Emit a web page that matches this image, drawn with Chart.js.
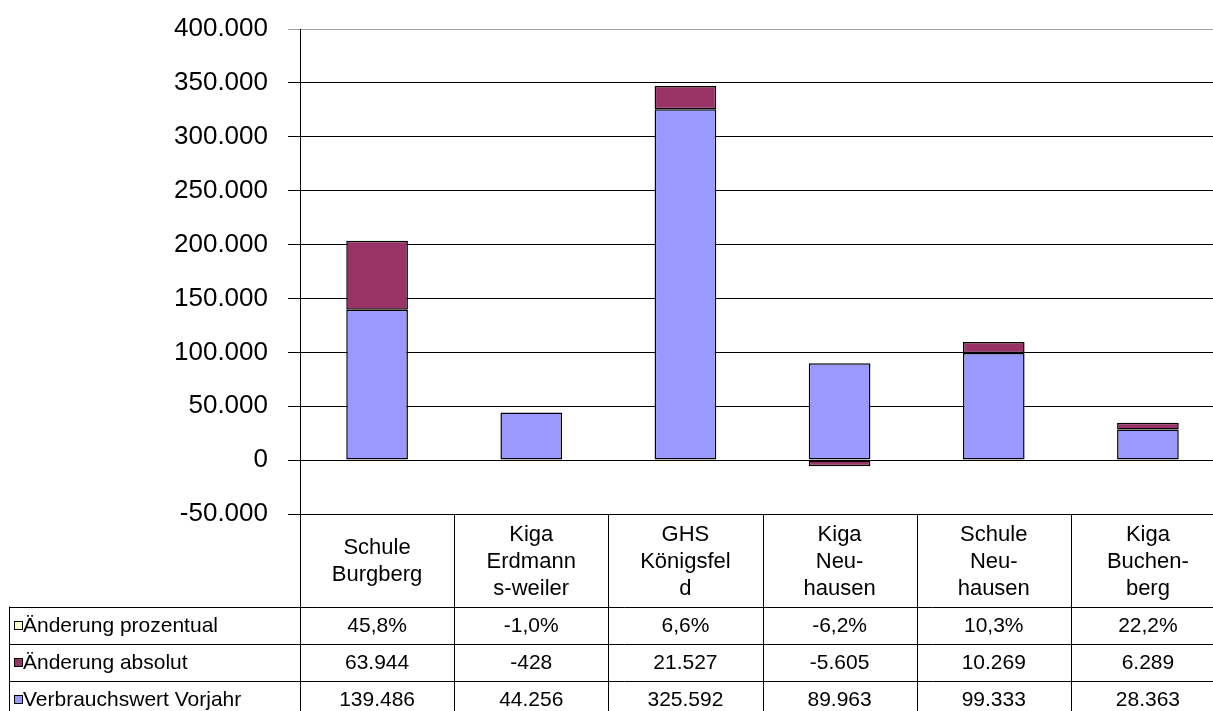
<!DOCTYPE html>
<html>
<head>
<meta charset="utf-8">
<script src="https://cdn.jsdelivr.net/npm/chart.js@4.4.1/dist/chart.umd.min.js"></script>
<style>
  html, body { margin: 0; padding: 0; background: #fff; overflow: hidden; }
  #wrap { width: 1213px; height: 711px; overflow: hidden; }
</style>
</head>
<body>
<div id="wrap">
  <canvas id="chart" width="1240" height="711"></canvas>
</div>
<script>
var categories = [
  ["Schule", "Burgberg"],
  ["Kiga", "Erdmann", "s-weiler"],
  ["GHS", "Königsfel", "d"],
  ["Kiga", "Neu-", "hausen"],
  ["Schule", "Neu-", "hausen"],
  ["Kiga", "Buchen-", "berg"]
];
var vorjahr = [139486, 44256, 325592, 89963, 99333, 28363];
var absolut = [63944, -428, 21527, -5605, 10269, 6289];
var prozentual = [0.458, -0.010, 0.066, -0.062, 0.103, 0.222];
var yTicks = { min: -50000, max: 400000, step: 50000 };

var FONT = "'Liberation Sans', Arial, sans-serif";

function fmtNum(v) {
  var s = Math.abs(Math.round(v)).toString().replace(/\B(?=(\d{3})+(?!\d))/g, ".");
  return (v < 0 ? "-" : "") + s;
}
function fmtPct(v) {
  return (v * 100).toFixed(1).replace(".", ",") + "%";
}

// rows of the data table, top to bottom (same order as Excel)
var tableRows = [
  { label: "Änderung prozentual", color: "#FFFFCC", values: prozentual, fmt: fmtPct },
  { label: "Änderung absolut", color: "#993366", values: absolut, fmt: fmtNum },
  { label: "Verbrauchswert Vorjahr", color: "#9999FF", values: vorjahr, fmt: fmtNum }
];

var dataTable = {
  id: "dataTable",
  afterDraw: function (chart) {
    var ctx = chart.ctx;
    var xs = chart.scales.x;
    var area = chart.chartArea;
    var colW = xs.width / categories.length;
    var headerH = 92;
    var rowH = 37;
    var top = Math.round(area.bottom) + 0.5;
    var rowTop = top + headerH;
    var H = chart.height;
    var W = chart.width;

    ctx.save();
    ctx.strokeStyle = "#000";
    ctx.lineWidth = 1;
    ctx.beginPath();
    // column borders
    for (var i = 0; i < categories.length; i++) {
      var bx = Math.round(xs.getPixelForValue(i) - colW / 2) + 0.5;
      ctx.moveTo(bx, top);
      ctx.lineTo(bx, H);
    }
    // row borders
    for (var r = 0; r < tableRows.length; r++) {
      var ry = Math.round(rowTop + r * rowH) + 0.5;
      ctx.moveTo(9.5, ry);
      ctx.lineTo(W, ry);
    }
    ctx.moveTo(9.5, rowTop);
    ctx.lineTo(9.5, H);
    ctx.stroke();

    ctx.fillStyle = "#000";
    ctx.textAlign = "center";
    ctx.textBaseline = "middle";

    // category header cells
    ctx.font = "22px " + FONT;
    var lh = 27;
    categories.forEach(function (lines, i) {
      var cx = xs.getPixelForValue(i);
      var cy = top + headerH / 2 - (lines.length - 1) * lh / 2;
      lines.forEach(function (t, k) {
        ctx.fillText(t, cx, cy + k * lh + 1);
      });
    });

    // value rows
    ctx.font = "21px " + FONT;
    tableRows.forEach(function (row, r) {
      var cy = rowTop + r * rowH + rowH / 2 + 1;
      row.values.forEach(function (v, i) {
        ctx.fillText(row.fmt(v), xs.getPixelForValue(i), cy);
      });
      // legend key + label
      ctx.fillStyle = row.color;
      ctx.fillRect(14.5, Math.round(cy) - 4.5, 8, 8);
      ctx.strokeRect(14.5, Math.round(cy) - 4.5, 8, 8);
      ctx.fillStyle = "#000";
      ctx.textAlign = "left";
      ctx.fillText(row.label, 23, cy);
      ctx.textAlign = "center";
    });
    ctx.restore();
  }
};

var ctx = document.getElementById("chart");
new Chart(ctx, {
  type: "bar",
  data: {
    labels: categories.map(function (c) { return c.join(" "); }),
    datasets: [
      { label: "Verbrauchswert Vorjahr", data: vorjahr, backgroundColor: "#9999FF" },
      { label: "Änderung absolut", data: absolut, backgroundColor: "#993366" },
      { label: "Änderung prozentual", data: prozentual, backgroundColor: "#FFFFCC" }
    ].map(function (d) {
      d.borderColor = "#000";
      d.borderWidth = 1.5;
      d.borderSkipped = false;
      d.barPercentage = 0.4;
      d.categoryPercentage = 1;
      return d;
    })
  },
  options: {
    responsive: false,
    animation: false,
    layout: { padding: { left: 0, top: 29, right: 15, bottom: 197 } },
    plugins: {
      legend: { display: false },
      tooltip: { enabled: false }
    },
    scales: {
      x: {
        stacked: true,
        display: false
      },
      y: {
        stacked: true,
        min: yTicks.min,
        max: yTicks.max,
        afterFit: function (s) { s.width = 300; },
        border: { display: true, color: "#000", width: 1 },
        grid: {
          color: function (c) { return c.tick && c.tick.value === yTicks.max ? "#a0a0a0" : "#000"; },
          lineWidth: 1,
          tickLength: 12,
          drawTicks: true
        },
        ticks: {
          stepSize: yTicks.step,
          padding: 20,
          color: "#000",
          // small lineHeight keeps the top label from pushing the plot down
          font: { family: FONT, size: 26, lineHeight: 0.6 },
          callback: function (v) { return fmtNum(v); }
        }
      }
    }
  },
  plugins: [dataTable]
});
</script>
</body>
</html>
